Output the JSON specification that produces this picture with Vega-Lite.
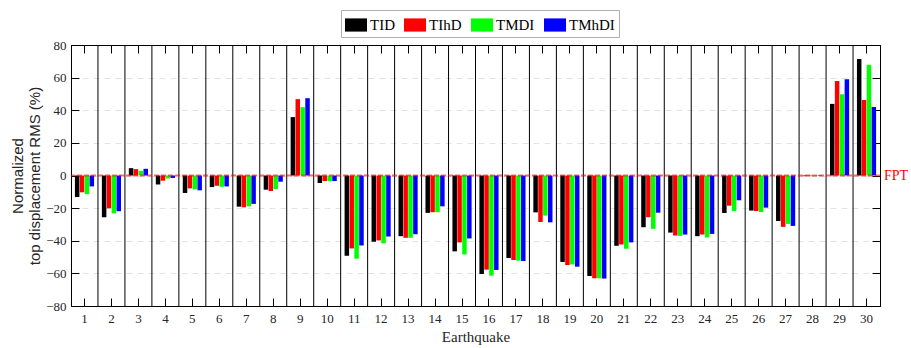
{
  "$schema": "https://vega.github.io/schema/vega-lite/v6.json",
  "width": 809,
  "height": 261,
  "autosize": "none",
  "padding": {"left": 71, "top": 45, "right": 31, "bottom": 42},
  "background": "white",
  "data": {
    "values": [
      {"eq": 1, "TID": -13.2, "TIhD": -10.3, "TMDI": -11.4, "TMhDI": -6.7},
      {"eq": 2, "TID": -25.6, "TIhD": -20.1, "TMDI": -23.2, "TMhDI": -21.9},
      {"eq": 3, "TID": 4.5, "TIhD": 3.9, "TMDI": 2.9, "TMhDI": 4.1},
      {"eq": 4, "TID": -5.5, "TIhD": -3.2, "TMDI": -1.8, "TMhDI": -1.5},
      {"eq": 5, "TID": -10.7, "TIhD": -7.9, "TMDI": -8.5, "TMhDI": -9.1},
      {"eq": 6, "TID": -7.1, "TIhD": -6.3, "TMDI": -6.9, "TMhDI": -6.7},
      {"eq": 7, "TID": -19.1, "TIhD": -19.5, "TMDI": -18.9, "TMhDI": -17.4},
      {"eq": 8, "TID": -8.7, "TIhD": -9.5, "TMDI": -8.3, "TMhDI": -3.8},
      {"eq": 9, "TID": 35.8, "TIhD": 46.8, "TMDI": 41.9, "TMhDI": 47.4},
      {"eq": 10, "TID": -4.6, "TIhD": -3.4, "TMDI": -3.4, "TMhDI": -3.4},
      {"eq": 11, "TID": -49.2, "TIhD": -44.7, "TMDI": -51.0, "TMhDI": -42.9},
      {"eq": 12, "TID": -40.6, "TIhD": -39.8, "TMDI": -41.6, "TMhDI": -37.4},
      {"eq": 13, "TID": -37.2, "TIhD": -38.2, "TMDI": -38.2, "TMhDI": -36.0},
      {"eq": 14, "TID": -22.9, "TIhD": -22.5, "TMDI": -22.5, "TMhDI": -18.9},
      {"eq": 15, "TID": -46.5, "TIhD": -41.0, "TMDI": -48.4, "TMhDI": -38.6},
      {"eq": 16, "TID": -60.4, "TIhD": -57.7, "TMDI": -61.4, "TMhDI": -57.9},
      {"eq": 17, "TID": -50.6, "TIhD": -51.8, "TMDI": -52.2, "TMhDI": -52.4},
      {"eq": 18, "TID": -22.6, "TIhD": -28.5, "TMDI": -24.6, "TMhDI": -28.7},
      {"eq": 19, "TID": -53.0, "TIhD": -54.9, "TMDI": -54.5, "TMhDI": -55.9},
      {"eq": 20, "TID": -61.6, "TIhD": -63.0, "TMDI": -63.0, "TMhDI": -63.2},
      {"eq": 21, "TID": -43.1, "TIhD": -42.3, "TMDI": -44.9, "TMhDI": -41.0},
      {"eq": 22, "TID": -31.7, "TIhD": -25.6, "TMDI": -32.7, "TMhDI": -22.8},
      {"eq": 23, "TID": -35.0, "TIhD": -36.8, "TMDI": -37.0, "TMhDI": -36.2},
      {"eq": 24, "TID": -37.2, "TIhD": -36.2, "TMDI": -38.0, "TMhDI": -35.8},
      {"eq": 25, "TID": -23.0, "TIhD": -18.5, "TMDI": -21.8, "TMhDI": -15.2},
      {"eq": 26, "TID": -21.5, "TIhD": -21.8, "TMDI": -22.4, "TMhDI": -19.7},
      {"eq": 27, "TID": -27.9, "TIhD": -31.5, "TMDI": -29.7, "TMhDI": -30.9},
      {"eq": 28, "TID": -0.4, "TIhD": -0.3, "TMDI": -0.5, "TMhDI": -0.3},
      {"eq": 29, "TID": 43.9, "TIhD": 57.9, "TMDI": 49.8, "TMhDI": 59.0},
      {"eq": 30, "TID": 71.4, "TIhD": 46.3, "TMDI": 67.9, "TMhDI": 42.0}
    ]
  },
  "layer": [
    {
      "transform": [
        {"fold": ["TID", "TIhD", "TMDI", "TMhDI"], "as": ["series", "value"]}
      ],
      "mark": {"type": "bar"},
      "encoding": {
        "x": {
          "field": "eq",
          "type": "ordinal",
          "scale": {"paddingInner": 0, "paddingOuter": 0},
          "axis": {
            "orient": "bottom",
            "title": "Earthquake",
            "labelAngle": 0,
            "tickSize": -8,
            "labelPadding": 14,
            "titlePadding": 4,
            "grid": false,
            "domainColor": "black"
          }
        },
        "y": {
          "field": "value",
          "type": "quantitative",
          "scale": {"domain": [-80, 80], "nice": false},
          "axis": {
            "orient": "left",
            "values": [-80, -60, -40, -20, 0, 20, 40, 60, 80],
            "title": ["Normalized", "top displacement RMS (%)"],
            "titleFont": "Liberation Sans",
            "titleFontSize": 15,
            "titleFontWeight": "normal",
            "titlePadding": 3,
            "tickSize": -8,
            "labelPadding": 13,
            "grid": true,
            "gridColor": "#e3e3e3",
            "gridDash": [6, 5],
            "domainColor": "black"
          }
        },
        "xOffset": {
          "field": "series",
          "type": "nominal",
          "sort": ["TID", "TIhD", "TMDI", "TMhDI"],
          "scale": {"paddingInner": 0.08, "paddingOuter": 0.8}
        },
        "color": {
          "field": "series",
          "type": "nominal",
          "sort": ["TID", "TIhD", "TMDI", "TMhDI"],
          "scale": {
            "domain": ["TID", "TIhD", "TMDI", "TMhDI"],
            "range": ["#000000", "#ff0000", "#00ff00", "#0000ff"]
          },
          "legend": {
            "title": null,
            "orient": "none",
            "legendX": 270,
            "legendY": -35,
            "direction": "horizontal",
            "columns": 4,
            "symbolType": "M-1,-0.6H1V0.6H-1Z",
            "symbolSize": 484,
            "symbolStrokeWidth": 0,
            "symbolOpacity": 1,
            "labelFont": "Liberation Serif",
            "labelFontSize": 15,
            "labelColor": "#000000",
            "labelOffset": 3,
            "columnPadding": 9,
            "padding": 4,
            "strokeColor": "#b0b0b0",
            "fillColor": "white"
          }
        }
      }
    },
    {
      "transform": [{"filter": "datum.eq > 1"}],
      "mark": {"type": "rule", "color": "black", "strokeWidth": 1},
      "encoding": {
        "x": {
          "field": "eq",
          "type": "ordinal",
          "bandPosition": 0,
          "axis": {
            "orient": "top",
            "title": null,
            "labels": false,
            "tickSize": -8,
            "grid": false,
            "domainColor": "black"
          }
        }
      }
    },
    {
      "data": {"values": [{"level": 0}]},
      "mark": {"type": "rule", "color": "#ff0000", "strokeWidth": 2, "strokeDash": [5, 2], "opacity": 0.6},
      "encoding": {
        "y": {
          "field": "level",
          "type": "quantitative",
          "axis": {
            "orient": "right",
            "title": null,
            "labels": false,
            "values": [-80, -60, -40, -20, 0, 20, 40, 60, 80],
            "tickSize": -8,
            "grid": false,
            "domainColor": "black"
          }
        }
      }
    },
    {
      "data": {"values": [{"level": 0, "tag": "FPT", "eq": 30}]},
      "mark": {"type": "text", "align": "left", "baseline": "middle", "dx": 4, "color": "#ff0000", "font": "Liberation Serif", "fontSize": 14},
      "encoding": {
        "x": {"field": "eq", "type": "ordinal", "bandPosition": 1, "axis": null},
        "y": {"field": "level", "type": "quantitative", "axis": null},
        "text": {"field": "tag"}
      }
    }
  ],
  "resolve": {"axis": {"x": "independent", "y": "independent"}},
  "config": {
    "view": {"stroke": "black", "strokeWidth": 1},
    "axis": {
      "labelFont": "Liberation Serif",
      "labelFontSize": 13,
      "labelColor": "#262626",
      "titleFont": "Liberation Serif",
      "titleFontSize": 15,
      "titleFontWeight": "normal",
      "titleColor": "#262626",
      "tickColor": "black",
      "domainColor": "black"
    }
  }
}
